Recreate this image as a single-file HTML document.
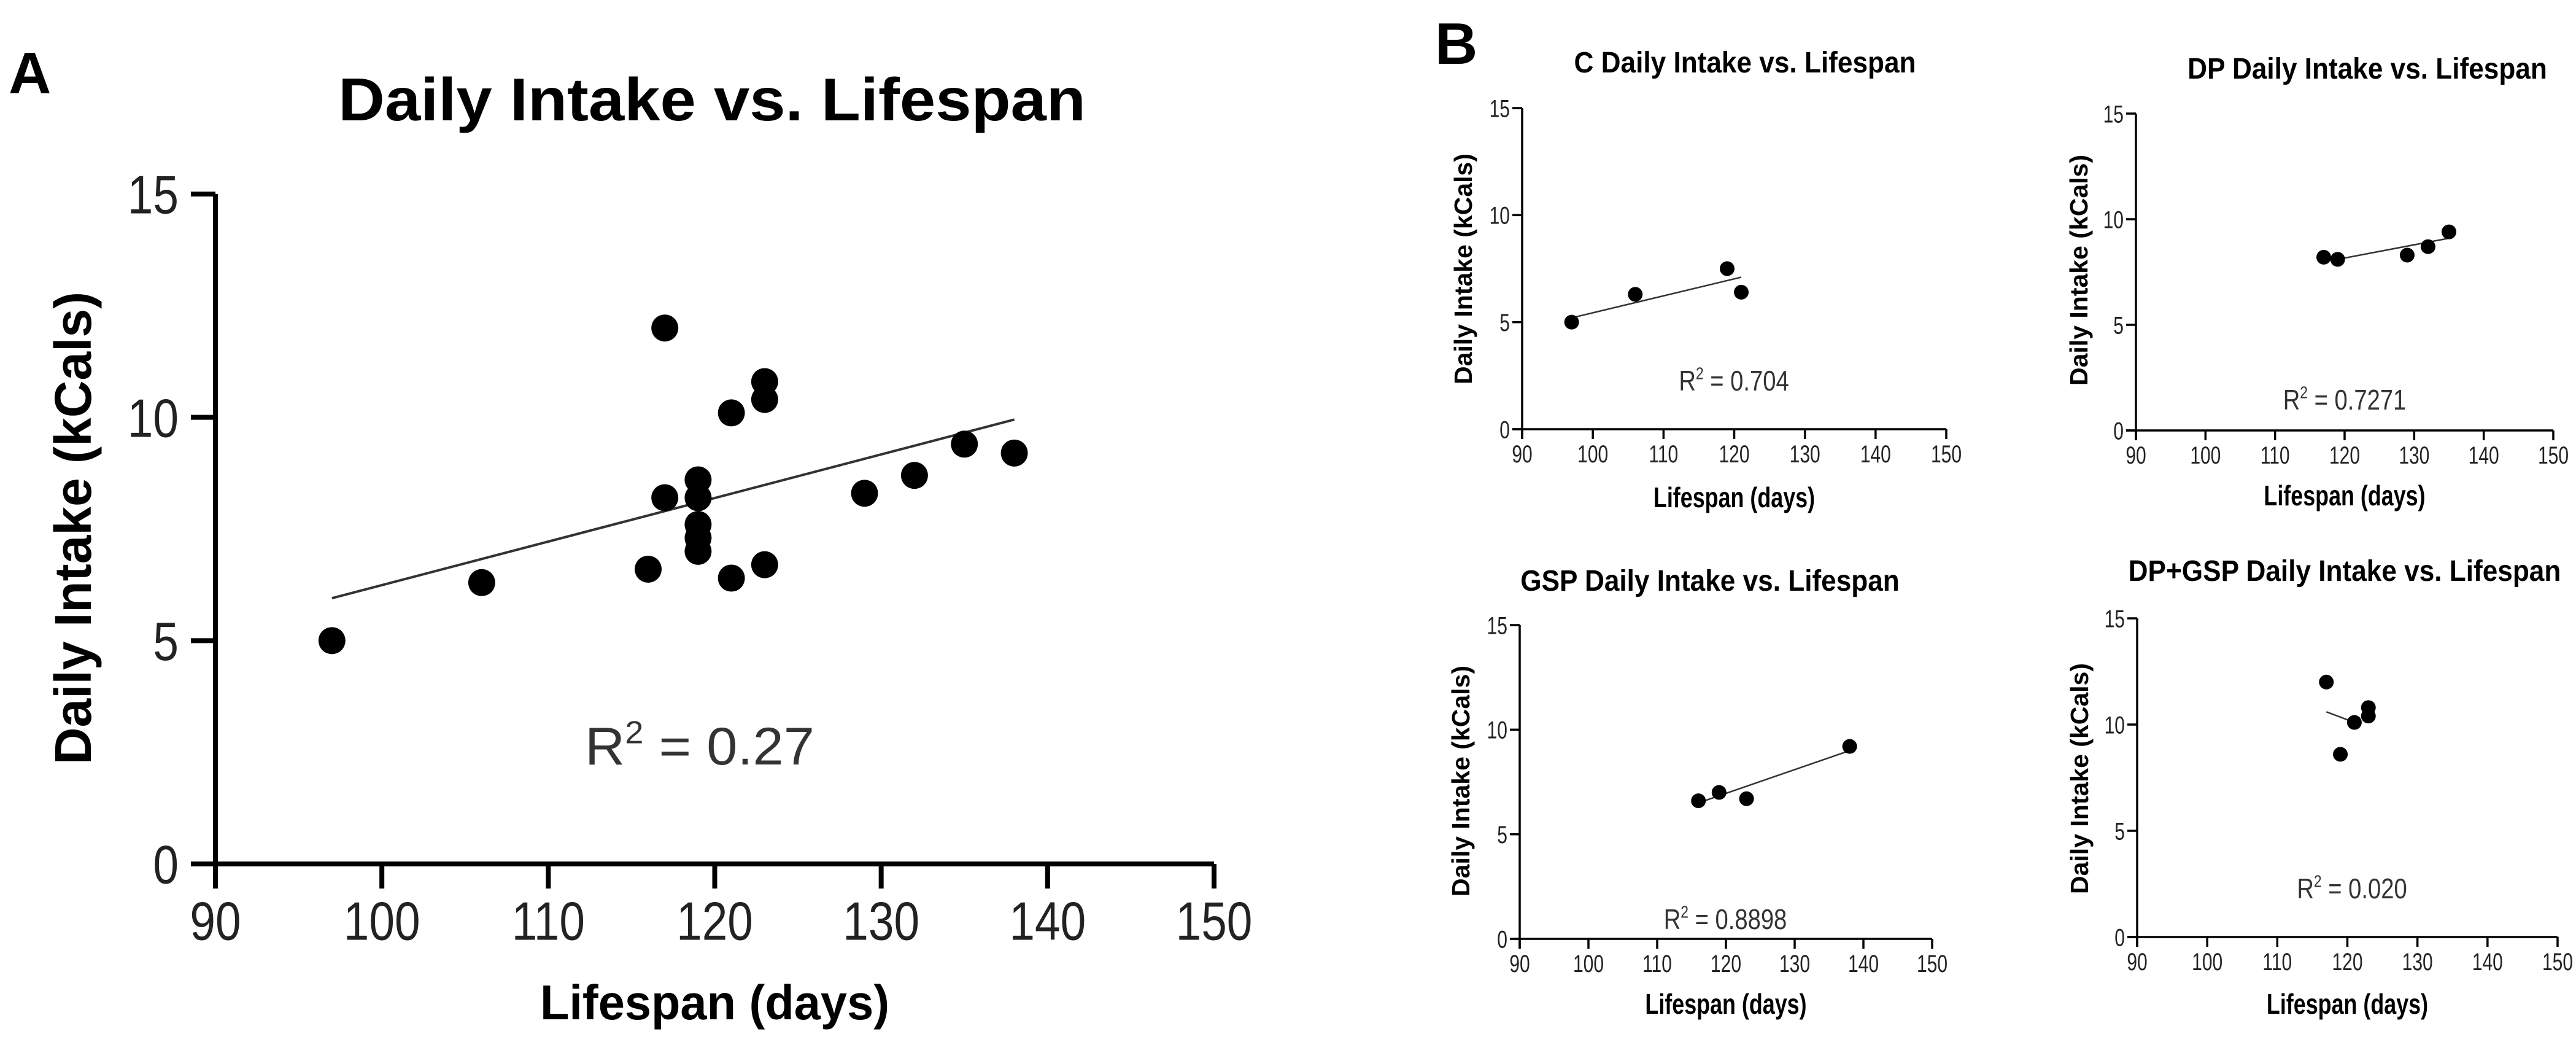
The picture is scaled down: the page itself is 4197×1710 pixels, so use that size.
<!DOCTYPE html>
<html><head><meta charset="utf-8"><style>
html,body{margin:0;padding:0;background:#fff;}
svg{display:block;font-family:"Liberation Sans",Arial,sans-serif;}
</style></head><body>
<svg id="fig" width="4197" height="1710" viewBox="0 0 4197 1710" xmlns="http://www.w3.org/2000/svg">
<rect width="4197" height="1710" fill="#fff"/>
<text x="14" y="152" font-size="96" font-weight="bold">A</text>
<text x="2338" y="104" font-size="96" font-weight="bold">B</text>
</svg>
<script>
// Panel A (all)
const aX=[97,106,116,117,117,119,119,119,119,119,121,121,123,123,123,129,132,135,138];
const aY=[5,6.3,6.6,8.2,12,8.6,8.2,7.6,7.3,7.0,10.1,6.4,10.8,10.4,6.7,8.3,8.7,9.4,9.2];
const aFit=[[97,5.95],[138,9.95]];
// C
const cX=[97,106,119,121];
const cY=[5,6.3,7.5,6.4];
const cFit=[[97,5.2],[121,7.1]];
// DP
const dpX=[117,119,129,132,135];
const dpY=[8.2,8.1,8.3,8.7,9.4];
const dpFit=[[119,8.1],[135,9.1]];
// GSP
const gX=[116,119,123,138];
const gY=[6.6,7.0,6.7,9.2];
const gFit=[[116,6.5],[138,9.0]];
// DP+GSP
const dgX=[117,119,121,123,123];
const dgY=[12,8.6,10.1,10.4,10.8];
const dgFit=[[117,10.6],[121,10.1]];
const xTicks=[90,100,110,120,130,140,150];
const yTicks=[0,5,10,15];

const NS='http://www.w3.org/2000/svg';
const svg=document.getElementById('fig');
function mk(tag,attrs,parent){const e=document.createElementNS(NS,tag);for(const k in attrs)e.setAttribute(k,attrs[k]);(parent||svg).appendChild(e);return e;}
function txt(x,y,s,fs,opts,parent){
  const g=mk('g',{transform:`translate(${x},${y})`+(opts.rot?` rotate(${opts.rot})`:'')+` scale(${opts.sx||1},1)`},parent);
  const t=mk('text',{x:0,y:0,'font-size':fs,'text-anchor':opts.anchor||'middle','font-weight':opts.bold?'bold':'normal',fill:opts.fill||'#000'},g);
  t.textContent=s;return t;
}
function chart(c){
  const g=mk('g',{});
  
  
  const sx=v=>c.x0+(v-90)/60*(c.x1-c.x0);
  const sy=v=>c.y0-(v)/15*(c.y0-c.y1);
  const t=txt(c.tx,c.ty,c.title,c.tfs,{bold:true,sx:c.tsx},g);
  
  mk('line',{x1:c.x0,y1:c.y0+c.tk,x2:c.x0,y2:c.y1,stroke:'#000','stroke-width':c.lw},g);
  mk('line',{x1:c.x0-c.tk,y1:c.y0,x2:c.x1,y2:c.y0,stroke:'#000','stroke-width':c.lw},g);
  xTicks.forEach(v=>{
    mk('line',{x1:sx(v),y1:c.y0,x2:sx(v),y2:c.y0+c.tk,stroke:'#000','stroke-width':c.lw},g);
    const l=txt(sx(v),c.y0+c.tk+c.fs*0.95,String(v),c.fs,{sx:c.nsx,fill:'#222'},g);
    
  });
  yTicks.forEach(v=>{
    mk('line',{x1:c.x0-c.tk,y1:sy(v),x2:c.x0,y2:sy(v),stroke:'#000','stroke-width':c.lw},g);
    const l=txt(c.x0-c.tk-c.gap,sy(v)+c.fs*0.36,String(v),c.fs,{sx:c.nsx,anchor:'end',fill:'#222'},g);
    
  });
  const xt=txt((c.x0+c.x1)/2+c.xtdx,c.xty,'Lifespan (days)',c.afs,{bold:true,sx:c.xtsx},g);
  
  const yt=txt(c.ytx,c.yty,'Daily Intake (kCals)',c.yfs,{bold:true,rot:-90},g);
  
  const fl=mk('line',{x1:sx(c.fit[0][0]),y1:sy(c.fit[0][1]),x2:sx(c.fit[1][0]),y2:sy(c.fit[1][1]),stroke:'#333','stroke-width':c.flw},g);
  
  c.xs.forEach((v,i)=>{
    const p=mk('circle',{cx:sx(v),cy:sy(c.ys[i]),r:c.r,fill:'#000'},g);
    
    
  });
  const rg=mk('g',{transform:`translate(${c.rx},${c.ry}) scale(${c.rsx},1)`},g);
  const rt=mk('text',{x:0,y:0,'font-size':c.rfs,'text-anchor':'middle',fill:'#333'},rg);
  
  rt.innerHTML='R<tspan dy="-'+(c.rfs*0.4)+'" font-size="'+(c.rfs*0.6)+'">2</tspan><tspan dy="'+(c.rfs*0.4)+'"> = '+c.r2+'</tspan>';
}
chart({name:'chart-all',title:'Daily Intake vs. Lifespan',tx:1160,ty:196,tfs:98,tsx:1.07,
  x0:351,x1:1978,y0:1407,y1:316,tk:40,gap:20,lw:8,fs:88,nsx:0.85,afs:80,xtsx:0.97,xtdx:0,xty:1660,
  ytx:148,yty:860,yfs:84,fit:aFit,flw:4,xs:aX,ys:aY,r:22,rx:1140,ry:1245,rfs:86,rsx:1.05,r2:'0.27'});
chart({name:'chart-c',title:'C Daily Intake vs. Lifespan',tx:2843,ty:118,tfs:48,tsx:0.92,
  x0:2480,x1:3171,y0:699,y1:176,tk:16,gap:4,lw:3.5,fs:40,nsx:0.75,afs:46,xtsx:0.78,xtdx:0,xty:826,
  ytx:2398,yty:438,yfs:41,fit:cFit,flw:2.5,xs:cX,ys:cY,r:12,rx:2825,ry:636,rfs:46,rsx:0.83,r2:'0.704'});
chart({name:'chart-dp',title:'DP Daily Intake vs. Lifespan',tx:3857,ty:128,tfs:48,tsx:0.92,
  x0:3480,x1:4160,y0:701,y1:185,tk:16,gap:4,lw:3.5,fs:40,nsx:0.75,afs:46,xtsx:0.78,xtdx:0,xty:823,
  ytx:3401,yty:440,yfs:41,fit:dpFit,flw:2.5,xs:dpX,ys:dpY,r:12,rx:3820,ry:667,rfs:46,rsx:0.83,r2:'0.7271'});
chart({name:'chart-gsp',title:'GSP Daily Intake vs. Lifespan',tx:2786,ty:962,tfs:48,tsx:0.92,
  x0:2476,x1:3148,y0:1529,y1:1018,tk:16,gap:4,lw:3.5,fs:40,nsx:0.75,afs:46,xtsx:0.78,xtdx:0,xty:1651,
  ytx:2394,yty:1272,yfs:41,fit:gFit,flw:2.5,xs:gX,ys:gY,r:12,rx:2811,ry:1513,rfs:46,rsx:0.83,r2:'0.8898'});
chart({name:'chart-dp-gsp',title:'DP+GSP Daily Intake vs. Lifespan',tx:3820,ty:946,tfs:48,tsx:0.92,
  x0:3482,x1:4167,y0:1526,y1:1007,tk:16,gap:4,lw:3.5,fs:40,nsx:0.75,afs:46,xtsx:0.78,xtdx:0,xty:1651,
  ytx:3402,yty:1268,yfs:41,fit:dgFit,flw:2.5,xs:dgX,ys:dgY,r:12,rx:3832,ry:1463,rfs:46,rsx:0.83,r2:'0.020'});
</script>
</body></html>
